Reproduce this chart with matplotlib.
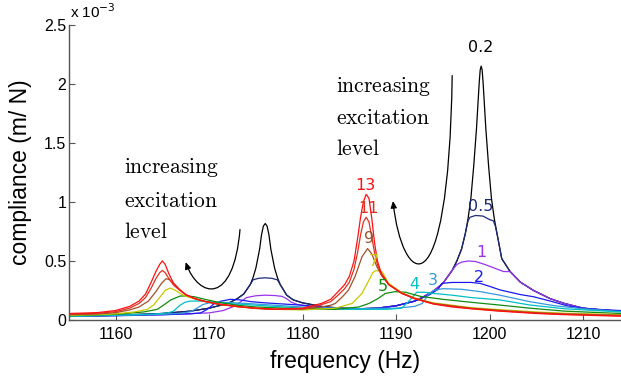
import numpy as np
import matplotlib
matplotlib.use('Agg')
import matplotlib.pyplot as plt
from matplotlib.path import Path
from matplotlib.patches import FancyArrowPatch

plt.rcParams['font.family'] = ['Liberation Sans', 'DejaVu Sans']

# measured compliance curves (units of 1e-3 m/N) for each excitation level
freq_0p2 = [1155, 1160, 1165, 1168, 1170, 1172, 1173, 1173.7, 1174.4, 1174.7, 1175, 1175.4, 1175.6,
            1175.8, 1176, 1176.2, 1176.4, 1176.6, 1177, 1177.3, 1177.6, 1178.3, 1179, 1180, 1182, 1184,
            1186, 1188, 1190, 1192, 1193, 1194, 1195, 1196, 1196.5, 1197, 1197.4, 1197.7, 1198, 1198.3,
            1198.6, 1198.9, 1199, 1199.1, 1199.2, 1199.3, 1199.6, 1199.9, 1200.2, 1200.5, 1200.8, 1201.3,
            1202.2, 1203.3, 1204.7, 1206.5, 1208, 1210, 1212, 1214]
comp_0p2 = [0.03, 0.04, 0.055, 0.075, 0.1, 0.14, 0.18, 0.22, 0.3, 0.36, 0.44, 0.6, 0.72,
            0.795, 0.817, 0.795, 0.72, 0.6, 0.44, 0.36, 0.3, 0.21, 0.17, 0.145, 0.115, 0.1,
            0.095, 0.1, 0.12, 0.16, 0.2, 0.245, 0.31, 0.42, 0.5, 0.6, 0.73, 0.86, 1.03, 1.3,
            1.62, 2.02, 2.12, 2.15, 2.12, 2.02, 1.62, 1.3, 1.03, 0.86, 0.73, 0.52,
            0.41, 0.32, 0.25, 0.18, 0.14, 0.1, 0.085, 0.075]

freq_0p5 = [1155, 1160, 1165, 1168, 1170, 1172, 1173, 1173.7, 1174.4, 1174.7, 1175.3, 1176, 1176.7,
            1177.3, 1177.6, 1178.3, 1179, 1180, 1182, 1184, 1186, 1188, 1190, 1192, 1193, 1194, 1195,
            1196, 1196.5, 1197, 1197.4, 1197.7, 1197.9, 1198.5, 1199.3, 1200.0, 1200.4, 1200.6, 1200.8,
            1201.3, 1202.2, 1203.3, 1204.7, 1206.5, 1208, 1210, 1212, 1214]
comp_0p5 = [0.03, 0.04, 0.055, 0.075, 0.1, 0.14, 0.18, 0.22, 0.3, 0.34, 0.353, 0.357, 0.353,
            0.34, 0.3, 0.21, 0.17, 0.145, 0.115, 0.1, 0.095, 0.1, 0.12, 0.16, 0.2, 0.245, 0.31,
            0.42, 0.5, 0.6, 0.73, 0.84, 0.87, 0.885, 0.88, 0.85, 0.84, 0.8, 0.73,
            0.52, 0.41, 0.32, 0.25, 0.18, 0.14, 0.1, 0.085, 0.075]

freq_1 = [1155, 1160, 1165, 1170, 1171.5, 1172.5, 1173.3, 1174, 1175, 1176, 1177, 1177.8, 1178.3,
          1178.8, 1179.5, 1181, 1183.5, 1186, 1188, 1190, 1192, 1193, 1194, 1195, 1196, 1196.5, 1197,
          1197.75, 1198.5, 1199.5, 1200.5, 1201.5, 1202.2, 1203.3, 1204.7, 1206.5, 1208, 1210, 1212, 1214]
comp_1 = [0.03, 0.037, 0.045, 0.06, 0.08, 0.11, 0.15, 0.19, 0.205, 0.21, 0.207, 0.2, 0.18,
          0.15, 0.13, 0.11, 0.095, 0.093, 0.1, 0.12, 0.16, 0.2, 0.245, 0.31, 0.42, 0.47, 0.49,
          0.5, 0.495, 0.47, 0.44, 0.41, 0.41, 0.32, 0.25, 0.18, 0.14, 0.1, 0.085, 0.075]

freq_2 = [1155, 1160, 1165, 1168, 1169.1, 1169.8, 1170.5, 1171.3, 1172.3, 1173.3, 1174.5, 1176, 1178,
          1180, 1183.5, 1186, 1188, 1190, 1192, 1193.5, 1194.5, 1194.9, 1196, 1198, 1199, 1200, 1201.1,
          1203.3, 1204.7, 1206.5, 1208.3, 1210, 1212, 1214]
comp_2 = [0.03, 0.036, 0.044, 0.052, 0.06, 0.09, 0.135, 0.16, 0.175, 0.17, 0.155, 0.145, 0.135,
          0.125, 0.1, 0.095, 0.1, 0.12, 0.16, 0.21, 0.26, 0.31, 0.318, 0.318, 0.31, 0.285, 0.255,
          0.215, 0.197, 0.16, 0.12, 0.1, 0.088, 0.08]

freq_3 = [1155, 1160, 1165, 1167, 1168, 1168.7, 1169.3, 1170, 1171, 1172, 1174, 1176, 1180, 1185,
          1190, 1192, 1192.8, 1193.5, 1194, 1195, 1197, 1199, 1201.1, 1204.3, 1207, 1210, 1214]
comp_3 = [0.03, 0.038, 0.048, 0.057, 0.07, 0.1, 0.13, 0.145, 0.15, 0.148, 0.14, 0.13, 0.11, 0.095,
          0.1, 0.115, 0.14, 0.22, 0.25, 0.265, 0.26, 0.24, 0.21, 0.155, 0.12, 0.095, 0.072]

freq_4 = [1155, 1160, 1164, 1165.5, 1166.2, 1166.8, 1167.4, 1168, 1169, 1170, 1172, 1175, 1180, 1185,
          1189, 1190.6, 1191.5, 1192.2, 1193, 1194, 1196, 1198, 1201.1, 1204.3, 1208, 1214]
comp_4 = [0.032, 0.04, 0.05, 0.058, 0.075, 0.12, 0.15, 0.16, 0.16, 0.155, 0.14, 0.125, 0.1, 0.09,
          0.09, 0.1, 0.17, 0.235, 0.235, 0.225, 0.21, 0.19, 0.17, 0.127, 0.095, 0.068]

freq_5 = [1155, 1160, 1163, 1164.45, 1165.2, 1165.9, 1166.9, 1167.7, 1168.4, 1169.8, 1171, 1173, 1175,
          1178, 1180, 1183.5, 1186, 1187.1, 1188.1, 1188.85, 1189.9, 1191, 1192.6, 1195, 1198, 1201,
          1204.3, 1208, 1214]
comp_5 = [0.036, 0.048, 0.068, 0.09, 0.13, 0.17, 0.203, 0.203, 0.197, 0.17, 0.15, 0.125, 0.11,
          0.1, 0.095, 0.09, 0.11, 0.14, 0.183, 0.225, 0.24, 0.235, 0.2, 0.175, 0.15, 0.127,
          0.1, 0.075, 0.055]

freq_7 = [1155, 1158, 1160, 1162, 1163.4, 1164.1, 1164.8, 1165.3, 1165.8, 1166.3, 1166.9, 1167.5,
          1168.5, 1169.5, 1171, 1173, 1175, 1177, 1180, 1183.5, 1185.3, 1186.35, 1187.1, 1187.5,
          1187.8, 1188.2, 1188.5, 1189.2, 1190.6, 1192, 1194, 1198, 1201, 1205, 1208, 1214]
comp_7 = [0.04, 0.045, 0.052, 0.068, 0.09, 0.13, 0.2, 0.25, 0.27, 0.255, 0.225, 0.2,
          0.177, 0.157, 0.133, 0.113, 0.098, 0.09, 0.085, 0.1, 0.14, 0.225, 0.338, 0.4,
          0.417, 0.417, 0.408, 0.31, 0.232, 0.186, 0.145, 0.105, 0.088, 0.068, 0.057, 0.045]

freq_9 = [1155, 1158, 1160, 1161.5, 1162.5, 1163.5, 1164.3, 1164.9, 1165.4, 1165.8, 1166.2, 1166.8,
          1167.5, 1168.5, 1169.5, 1171, 1173, 1175, 1177, 1180, 1182, 1183, 1183.5, 1184.3, 1184.9,
          1185.6, 1186.35, 1186.95, 1187.4, 1187.95, 1188.5, 1189.2, 1190.6, 1192, 1194, 1198, 1201,
          1205, 1208, 1214]
comp_9 = [0.045, 0.05, 0.062, 0.085, 0.11, 0.16, 0.24, 0.31, 0.35, 0.34, 0.31, 0.26,
          0.215, 0.18, 0.158, 0.134, 0.114, 0.099, 0.09, 0.092, 0.11, 0.125, 0.14, 0.2, 0.253,
          0.366, 0.535, 0.605, 0.56, 0.45, 0.37, 0.302, 0.228, 0.183, 0.14, 0.1, 0.082,
          0.062, 0.052, 0.04]

freq_11 = [1155, 1158, 1160, 1161.5, 1162.5, 1163.2, 1163.8, 1164.3, 1164.7, 1165.0, 1165.3, 1165.7,
           1166.2, 1166.8, 1167.5, 1168.5, 1169.5, 1171, 1173, 1175, 1177, 1180, 1181, 1182, 1183,
           1183.8, 1184.5, 1185, 1185.5, 1185.9, 1186.2, 1186.5, 1186.8, 1187.1, 1187.4, 1187.7,
           1188.0, 1188.4, 1189.2, 1190.6, 1192, 1194, 1198, 1201, 1205, 1208, 1214]
comp_11 = [0.05, 0.056, 0.07, 0.1, 0.14, 0.19, 0.27, 0.35, 0.40, 0.42, 0.40, 0.35,
           0.295, 0.255, 0.213, 0.18, 0.158, 0.134, 0.113, 0.098, 0.09, 0.095, 0.11, 0.13, 0.155,
           0.21, 0.265, 0.32, 0.43, 0.58, 0.72, 0.83, 0.87, 0.83, 0.7, 0.57,
           0.47, 0.39, 0.3, 0.226, 0.181, 0.137, 0.097, 0.078, 0.058, 0.048, 0.036]

freq_13 = [1155, 1158, 1160, 1161.5, 1162.5, 1163.2, 1163.8, 1164.3, 1164.7, 1165.0, 1165.3, 1165.7,
           1166.2, 1166.8, 1167.5, 1168.5, 1169.5, 1171, 1173, 1175, 1177, 1180, 1181, 1182, 1183,
           1183.8, 1184.5, 1185, 1185.5, 1185.9, 1186.2, 1186.5, 1186.8, 1187.1, 1187.4, 1187.7,
           1188.0, 1188.4, 1189.2, 1190.6, 1192, 1194, 1196, 1198, 1201, 1205, 1208, 1214]
comp_13 = [0.055, 0.062, 0.08, 0.115, 0.16, 0.22, 0.32, 0.41, 0.47, 0.50, 0.47, 0.39,
           0.31, 0.26, 0.215, 0.18, 0.158, 0.135, 0.115, 0.1, 0.092, 0.1, 0.12, 0.14, 0.175,
           0.24, 0.3, 0.37, 0.5, 0.7, 0.87, 1.0, 1.064, 1.03, 0.86, 0.65,
           0.5, 0.4, 0.3, 0.225, 0.18, 0.135, 0.11, 0.095, 0.075, 0.055, 0.045, 0.032]

levels = ['0.2', '0.5', '1', '2', '3', '4', '5', '7', '9', '11', '13']
colors = ['#000000', '#1c2a7a', '#9933ee', '#1a1aee', '#3399dd', '#00bfc4',
          '#108c10', '#c8c800', '#a05028', '#e03020', '#ff1010']
# where each level's number is written (frequency, compliance)
label_f = [1199.1, 1199.1, 1199.1, 1198.9, 1193.9, 1192.0, 1188.6, 1187.6, 1187.1, 1187.1, 1186.7]
label_c = [2.306, 0.963, 0.569, 0.363, 0.338, 0.300, 0.287, 0.498, 0.690, 0.943, 1.140]

curves = [(freq_0p2, comp_0p2), (freq_0p5, comp_0p5), (freq_1, comp_1), (freq_2, comp_2),
          (freq_3, comp_3), (freq_4, comp_4), (freq_5, comp_5), (freq_7, comp_7),
          (freq_9, comp_9), (freq_11, comp_11), (freq_13, comp_13)]

fig = plt.figure(figsize=(6.21, 3.76), dpi=100)
ax = fig.add_axes([0.111, 0.149, 0.889, 0.785])

for (f, c), col in zip(curves, colors):
    ax.plot(f, c, color=col, lw=0.9)

for lev, col, lf, lc in zip(levels, colors, label_f, label_c):
    ax.text(lf, lc, lev, color=col, fontsize=11.5, ha='center', va='center',
            family=['DejaVu Sans'])

# curved arrows showing the shift of each resonance with excitation
arrows = [
    [(1173.3, 0.766), (1172.6, 0.12), (1168.9, 0.18), (1167.48, 0.49)],
    [(1196.0, 2.07), (1195.6, 0.0), (1190.6, 0.3), (1189.67, 1.008)],
]
for verts in arrows:
    path = Path(verts, [Path.MOVETO, Path.CURVE4, Path.CURVE4, Path.CURVE4])
    ax.add_patch(FancyArrowPatch(path=path, arrowstyle='-|>,head_length=4,head_width=1.8',
                                 color='k', lw=0.9, shrinkA=0, shrinkB=0))

for x0, ys in [(1160.9, [1.242, 0.957, 0.693]), (1183.6, [1.928, 1.661, 1.394])]:
    for word, y in zip(['increasing', 'excitation', 'level'], ys):
        ax.text(x0, y, r'$\mathrm{%s}$' % word, fontsize=15.5, ha='left', va='baseline',
                math_fontfamily='cm')

ax.set_xlim(1155, 1214.06)
ax.set_ylim(0, 2.5)
ax.set_xticks([1160, 1170, 1180, 1190, 1200, 1210])
ax.set_yticks([0, 0.5, 1, 1.5, 2, 2.5])
ax.set_yticklabels(['0', '0.5', '1', '1.5', '2', '2.5'])
for side in ['top', 'right']:
    ax.spines[side].set_visible(False)
for side in ['left', 'bottom']:
    ax.spines[side].set_color('#555555')
    ax.spines[side].set_linewidth(1.0)
ax.tick_params(direction='in', length=4, width=0.8, color='#555555', labelsize=11.5)
ax.tick_params(axis='x', pad=5)
ax.tick_params(axis='y', pad=2)

ax.text(0.002, 1.012, r'x 10$^{-3}$', transform=ax.transAxes, fontsize=11,
        ha='left', va='bottom')
ax.set_xlabel('frequency (Hz)', fontsize=16.5, labelpad=6)
ax.set_ylabel('compliance (m/ N)', fontsize=16.5)
ax.yaxis.set_label_coords(-0.067, 0.5)

fig.savefig('out.png', dpi=100)
